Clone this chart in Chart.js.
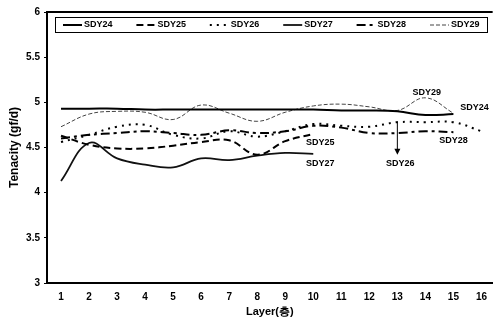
<!DOCTYPE html>
<html>
<head>
<meta charset="utf-8">
<script src="https://cdn.jsdelivr.net/npm/chart.js@4"></script>
<style>
  html, body { margin: 0; padding: 0; background: #fff; }
  #wrap { width: 495px; height: 325px; position: relative; }
</style>
</head>
<body>
<div id="wrap"><canvas id="myChart"></canvas></div>
<script>
// layers on the x axis
const layers = [1, 2, 3, 4, 5, 6, 7, 8, 9, 10, 11, 12, 13, 14, 15, 16];
const yTicks = [3, 3.5, 4, 4.5, 5, 5.5, 6];
const seriesNames = ['SDY24', 'SDY25', 'SDY26', 'SDY27', 'SDY28', 'SDY29'];

// tenacity (gf/d) per layer
const sdy24 = [4.93, 4.93, 4.93, 4.92, 4.92, 4.92, 4.92, 4.92, 4.92, 4.92, 4.91, 4.91, 4.9, 4.86, 4.87];
const sdy25 = [4.63, 4.53, 4.49, 4.49, 4.52, 4.56, 4.58, 4.42, 4.57, 4.65];
const sdy26 = [4.56, 4.64, 4.73, 4.75, 4.64, 4.6, 4.68, 4.62, 4.68, 4.76, 4.74, 4.73, 4.78, 4.78, 4.78, 4.68];
const sdy27 = [4.13, 4.55, 4.38, 4.31, 4.28, 4.38, 4.36, 4.41, 4.44, 4.43];
const sdy28 = [4.6, 4.64, 4.66, 4.68, 4.66, 4.64, 4.69, 4.66, 4.68, 4.74, 4.72, 4.66, 4.66, 4.68, 4.67];
const sdy29 = [4.73, 4.87, 4.9, 4.89, 4.81, 4.97, 4.88, 4.79, 4.89, 4.96, 4.98, 4.95, 4.91, 5.05, 4.88];

const allValues = [sdy24, sdy25, sdy26, sdy27, sdy28, sdy29];

// line looks for each series
const looks = [
  { borderWidth: 2, borderDash: [], borderColor: '#000' },
  { borderWidth: 2, borderDash: [7, 4], borderColor: '#000' },
  { borderWidth: 2, borderDash: [2, 5], borderColor: '#000' },
  { borderWidth: 1.8, borderDash: [], borderColor: '#111' },
  { borderWidth: 2, borderDash: [9, 4, 3, 4], borderColor: '#000' },
  { borderWidth: 1, borderDash: [4, 2], borderColor: '#444' }
];

// text notes next to the lines, in data units
const notes = [
  { text: 'SDY24', x: 15.75, y: 4.94 },
  { text: 'SDY29', x: 14.05, y: 5.11 },
  { text: 'SDY25', x: 10.25, y: 4.55 },
  { text: 'SDY27', x: 10.25, y: 4.32 },
  { text: 'SDY26', x: 13.1, y: 4.32 },
  { text: 'SDY28', x: 15.0, y: 4.58 }
];
const arrow = { x: 13, from: 4.79, to: 4.42 };

const FONT = '"Liberation Sans", Arial, sans-serif';

const datasets = seriesNames.map((name, i) => ({
  label: name,
  data: allValues[i].map((v, j) => ({ x: layers[j], y: v })),
  borderColor: looks[i].borderColor,
  borderWidth: looks[i].borderWidth,
  borderDash: looks[i].borderDash,
  backgroundColor: 'transparent',
  pointRadius: 0,
  tension: 0.4,
  fill: false
}));

// legend box, frame top line, labels and the arrow
const extras = {
  id: 'extras',
  afterDatasetsDraw(chart) {
    const ctx = chart.ctx;
    const area = chart.chartArea;
    const xs = chart.scales.x, ys = chart.scales.y;
    ctx.save();

    // top frame line
    ctx.strokeStyle = '#000';
    ctx.lineWidth = 2;
    ctx.setLineDash([]);
    ctx.beginPath();
    ctx.moveTo(area.left, area.top);
    ctx.lineTo(area.right, area.top);
    ctx.stroke();

    // legend
    const bx = area.left + 8, by = area.top + 5, bw = 432, bh = 15;
    ctx.fillStyle = '#fff';
    ctx.fillRect(bx, by, bw, bh);
    ctx.lineWidth = 1;
    ctx.strokeRect(bx + 0.5, by + 0.5, bw, bh);
    ctx.font = 'bold 9px ' + FONT;
    ctx.textBaseline = 'middle';
    ctx.textAlign = 'left';
    const cy = by + bh / 2 + 0.5;
    datasets.forEach((ds, i) => {
      const sx = area.left + 16 + i * 73.4;
      ctx.strokeStyle = ds.borderColor;
      ctx.lineWidth = ds.borderWidth;
      ctx.setLineDash(ds.borderDash);
      ctx.beginPath();
      ctx.moveTo(sx, cy);
      ctx.lineTo(sx + 19, cy);
      ctx.stroke();
      ctx.setLineDash([]);
      ctx.fillStyle = '#000';
      ctx.fillText(ds.label, sx + 21, cy);
    });

    // notes
    ctx.textAlign = 'center';
    notes.forEach(n => {
      ctx.fillText(n.text, xs.getPixelForValue(n.x), ys.getPixelForValue(n.y));
    });

    // arrow to SDY26
    const ax = xs.getPixelForValue(arrow.x);
    const a1 = ys.getPixelForValue(arrow.from), a2 = ys.getPixelForValue(arrow.to);
    ctx.strokeStyle = '#000';
    ctx.lineWidth = 1;
    ctx.beginPath();
    ctx.moveTo(ax, a1);
    ctx.lineTo(ax, a2 - 5);
    ctx.stroke();
    ctx.beginPath();
    ctx.moveTo(ax - 3, a2 - 6);
    ctx.lineTo(ax + 3, a2 - 6);
    ctx.lineTo(ax, a2);
    ctx.closePath();
    ctx.fill();
    ctx.restore();
  }
};

const ctx = document.getElementById('myChart');
new Chart(ctx, {
  type: 'line',
  data: { datasets: datasets },
  plugins: [extras],
  options: {
    responsive: true,
    maintainAspectRatio: false,
    animation: false,
    layout: { padding: { top: 12, right: 0, bottom: 0, left: 0 } },
    plugins: {
      legend: { display: false },
      tooltip: { enabled: false }
    },
    scales: {
      x: {
        type: 'linear',
        min: 0.5,
        max: 16.4,
        afterBuildTicks: scale => { scale.ticks = layers.map(v => ({ value: v })); },
        afterFit: scale => { scale.height = 42; },
        grid: { display: true, drawOnChartArea: false, drawTicks: false },
        border: { display: true, color: '#000', width: 2 },
        ticks: {
          color: '#000',
          padding: 8,
          autoSkip: false,
          maxRotation: 0,
          callback: v => String(v),
          font: { family: FONT, size: 10, weight: 'bold' }
        },
        title: {
          display: true,
          text: 'Layer(층)',
          color: '#000',
          padding: { top: 2, bottom: 6 },
          font: { family: FONT, size: 11, weight: 'bold' }
        }
      },
      y: {
        min: 3,
        max: 6,
        afterBuildTicks: scale => { scale.ticks = yTicks.map(v => ({ value: v })); },
        afterFit: scale => { scale.width = 47; },
        grid: { display: true, drawOnChartArea: false, drawTicks: true, tickLength: 3, color: '#000' },
        border: { display: true, color: '#000', width: 2 },
        ticks: {
          color: '#000',
          padding: 4,
          callback: v => String(v),
          font: { family: FONT, size: 10, weight: 'bold' }
        },
        title: {
          display: true,
          text: 'Tenacity (gf/d)',
          color: '#000',
          padding: { top: 7, bottom: 0 },
          font: { family: FONT, size: 12, weight: 'bold' }
        }
      }
    }
  }
});
</script>
</body>
</html>
